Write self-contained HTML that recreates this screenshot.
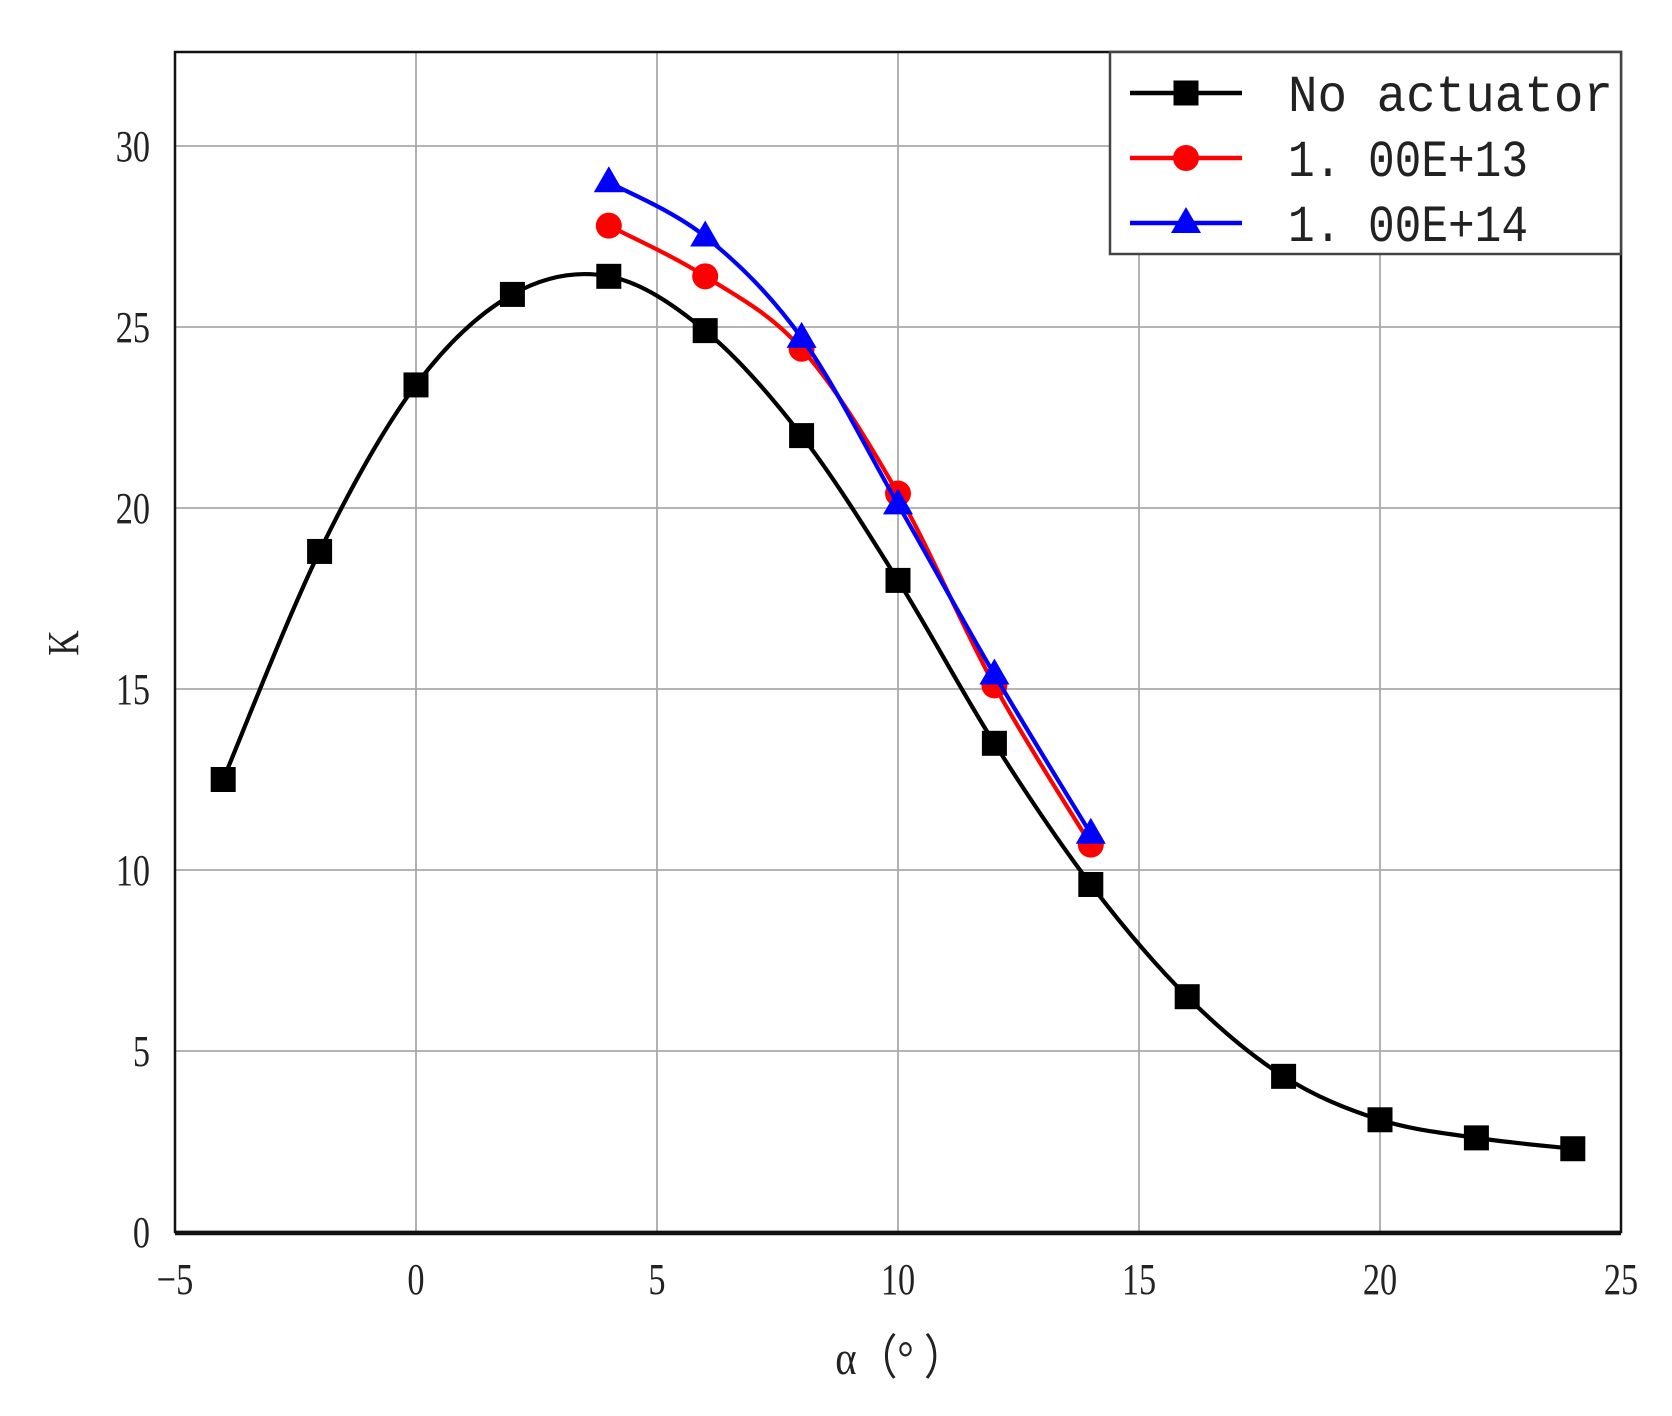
<!DOCTYPE html>
<html><head><meta charset="utf-8"><style>
html,body{margin:0;padding:0;background:#fff;}
svg{display:block;}
text{font-family:"Liberation Serif",serif;fill:#222;}
</style></head><body>
<svg id="s" width="1672" height="1416" xmlns="http://www.w3.org/2000/svg"></svg>
<script>
const L=175,R=1621,T=52,B=1232;
const X=v=>L+(v+5)*(R-L)/30, Y=v=>B-v*36.2;
let s='';
for(let v=0;v<=20;v+=5){s+=`<line x1="${X(v)}" y1="${T}" x2="${X(v)}" y2="${B}" stroke="#aaa" stroke-width="1.8"/>`;}
for(let v=5;v<=30;v+=5){s+=`<line x1="${L}" y1="${Y(v)}" x2="${R}" y2="${Y(v)}" stroke="#aaa" stroke-width="1.8"/>`;}
s+=`<rect x="${L}" y="${T}" width="${R-L}" height="${B-T}" fill="none" stroke="#111" stroke-width="2.5"/>`;
s+=`<line x1="${L}" y1="${B+1}" x2="${R}" y2="${B+1}" stroke="#111" stroke-width="4.5"/>`;
for(let v=-5;v<=25;v+=5)s+=`<text x="${X(v)}" y="${B+62}" font-size="44" text-anchor="middle" transform="translate(${X(v)},0) scale(0.78,1) translate(${-X(v)},0)">${v<0?'−5':v}</text>`;
for(let v=0;v<=30;v+=5)s+=`<text x="150" y="${Y(v)+15}" font-size="44" text-anchor="end" transform="translate(150,0) scale(0.78,1) translate(-150,0)">${v}</text>`;
s+=`<text x="0" y="0" font-size="44" text-anchor="middle" transform="translate(78,643) rotate(-90) scale(0.8,1)">K</text>`;
s+=`<text x="900" y="1374" font-size="48" text-anchor="middle" transform="translate(900,0) scale(0.85,1) translate(-900,0)">α（°  ）</text>`;
function path(pts,c){
 const p=pts.map(([a,b])=>[X(a),Y(b)]);let d=`M${p[0][0]},${p[0][1]}`;
 for(let i=0;i<p.length-1;i++){const p0=p[i-1]||p[i],p1=p[i],p2=p[i+1],p3=p[i+2]||p2;
  d+=` C${p1[0]+(p2[0]-p0[0])/6},${p1[1]+(p2[1]-p0[1])/6} ${p2[0]-(p3[0]-p1[0])/6},${p2[1]-(p3[1]-p1[1])/6} ${p2[0]},${p2[1]}`;}
 return `<path d="${d}" fill="none" stroke="${c}" stroke-width="4.2"/>`;}
function sq(x,y,c){return `<rect x="${x-12.5}" y="${y-12.5}" width="25" height="25" fill="${c}"/>`;}
function ci(x,y,c){return `<circle cx="${x}" cy="${y}" r="13" fill="${c}"/>`;}
function tr(x,y,c){return `<polygon points="${x},${y-16} ${x+15},${y+10} ${x-15},${y+10}" fill="${c}"/>`;}
const k=[[-4,12.5],[-2,18.8],[0,23.4],[2,25.9],[4,26.4],[6,24.9],[8,22],[10,18],[12,13.5],[14,9.6],[16,6.5],[18,4.3],[20,3.1],[22,2.6],[24,2.3]];
const r=[[4,27.8],[6,26.4],[8,24.4],[10,20.4],[12,15.1],[14,10.7]];
const b=[[4,29],[6,27.5],[8,24.7],[10,20.1],[12,15.4],[14,11]];
s+=path(k,'#000');k.forEach(([a,v])=>s+=sq(X(a),Y(v),'#000'));
s+=path(r,'#f00');r.forEach(([a,v])=>s+=ci(X(a),Y(v),'#f00'));
s+=path(b,'#00f');b.forEach(([a,v])=>s+=tr(X(a),Y(v),'#00f'));
s+=`<rect x="1110" y="52" width="511" height="202" fill="#fff" stroke="#444" stroke-width="2.5"/>`;
[[93,'#000','sq','No actuator'],[158,'#f00','ci','1. 00E+13'],[223,'#00f','tr','1. 00E+14']].forEach(([y,c,m,t])=>{
 s+=`<line x1="1130" y1="${y}" x2="1242" y2="${y}" stroke="${c}" stroke-width="4.5"/>`;
 s+=(m=='sq'?sq(1186,y,c):m=='ci'?ci(1186,y,c):tr(1186,y,c));
 s+=`<text x="1288" y="${y+18}" font-size="52" textLength="${t.length>10?325:240}" lengthAdjust="spacingAndGlyphs" style="font-family:'Liberation Mono',monospace">${t}</text>`;});
document.getElementById('s').innerHTML=s;
</script>
</body></html>
